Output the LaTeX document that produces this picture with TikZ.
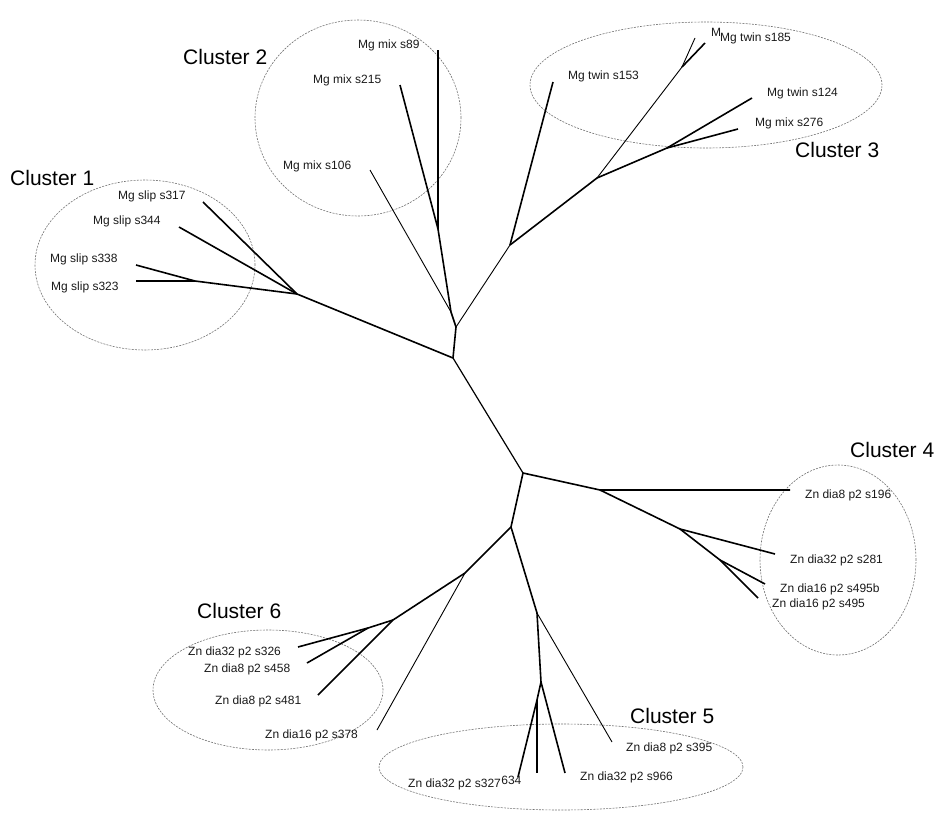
\documentclass[tikz,border=0pt]{standalone}
\usepackage{fontspec}
\setmainfont{Liberation Sans}
\begin{document}
\begin{tikzpicture}[x=1pt,y=-1pt,
  br/.style={line width=1.6pt, black},
  thinbr/.style={line width=0.9pt, black},
  midbr/.style={line width=1.2pt, black},
  lbl/.style={font=\fontsize{12}{14}\selectfont, inner sep=0pt, anchor=west, text=black!90},
  cl/.style={font=\fontsize{21}{24}\selectfont, inner sep=0pt, anchor=west},
  grp/.style={draw=black!55, line width=0.6pt, dash pattern=on 2pt off 1.2pt}]
\useasboundingbox (0,0) rectangle (938,814);
% cluster ellipses
\draw[grp] (145,265) ellipse [x radius=110pt, y radius=85pt];
\draw[grp] (358,118) ellipse [x radius=103pt, y radius=98pt];
\draw[grp] (706,85) ellipse [x radius=176pt, y radius=63pt];
\draw[grp] (838,560) ellipse [x radius=78pt, y radius=95pt];
\draw[grp] (561,767) ellipse [x radius=182pt, y radius=43pt];
\draw[grp] (268,690) ellipse [x radius=115pt, y radius=60pt];
% cluster titles
\node[cl] (c1) at (10,178) {Cluster 1};
\node[cl] (c2) at (183,57) {Cluster 2};
\node[cl] (c3) at (795,150) {Cluster 3};
\node[cl] (c4) at (850,450) {Cluster 4};
\node[cl] (c5) at (630,716) {Cluster 5};
\node[cl] (c6) at (197,611) {Cluster 6};
% tree coordinates
\coordinate (N1) at (453,358);
\coordinate (N2) at (456,327);
\coordinate (N12) at (451,312);
\coordinate (N13) at (438,229);
\coordinate (L89) at (438,50);
\coordinate (L215) at (400,85);
\coordinate (L106) at (370,170);
\coordinate (N8) at (510,245);
\coordinate (L153) at (553,82);
\coordinate (N9) at (597,178);
\coordinate (N10) at (682,67);
\coordinate (Lhid) at (695,38);
\coordinate (L185) at (705,43);
\coordinate (N11) at (667,148);
\coordinate (L124) at (752,98);
\coordinate (L276) at (738,129);
\coordinate (N15) at (297,294);
\coordinate (L317) at (203,202);
\coordinate (L344) at (179,227);
\coordinate (N14) at (195,281);
\coordinate (L338) at (136,265);
\coordinate (L323) at (136,281);
\coordinate (N3) at (523,473);
\coordinate (N5) at (600,490);
\coordinate (L196) at (790,490);
\coordinate (N6) at (680,529);
\coordinate (L281) at (775,554);
\coordinate (N7) at (720,560);
\coordinate (L495b) at (765,584);
\coordinate (L495) at (758,598);
\coordinate (N4) at (511,527);
\coordinate (N16) at (537,613);
\coordinate (L395) at (612,742);
\coordinate (N17) at (541,682);
\coordinate (N18) at (537,700);
\coordinate (L634) at (518,777);
\coordinate (Lv) at (537,773);
\coordinate (L966) at (565,773);
\coordinate (N19) at (465,573);
\coordinate (L378) at (377,730);
\coordinate (N20) at (393,620);
\coordinate (L481) at (318,695);
\coordinate (N21) at (368,628);
\coordinate (L326) at (298,647);
\coordinate (L458) at (307,663);
% branches
\draw[midbr] (N1) -- (N3);
\draw[br] (N1) -- (N15);
\draw[br] (N1) -- (N2) -- (N12) -- (N13) -- (L89);
\draw[br] (N13) -- (L215);
\draw[thinbr] (N12) -- (L106);
\draw[thinbr] (N2) -- (N8);
\draw[br] (N8) -- (L153);
\draw[br] (N8) -- (N9) -- (N11) -- (L124);
\draw[br] (N11) -- (L276);
\draw[thinbr] (N9) -- (N10) -- (Lhid);
\draw[br] (N10) -- (L185);
\draw[br] (N15) -- (L317);
\draw[br] (N15) -- (L344);
\draw[br] (N15) -- (N14) -- (L338);
\draw[br] (N14) -- (L323);
\draw[br] (N3) -- (N5) -- (L196);
\draw[br] (N5) -- (N6) -- (L281);
\draw[br] (N6) -- (N7) -- (L495b);
\draw[br] (N7) -- (L495);
\draw[br] (N3) -- (N4) -- (N16) -- (N17) -- (N18) -- (L634);
\draw[br] (N18) -- (Lv);
\draw[br] (N17) -- (L966);
\draw[thinbr] (N16) -- (L395);
\draw[br] (N4) -- (N19) -- (N20) -- (L481);
\draw[thinbr] (N19) -- (L378);
\draw[br] (N20) -- (N21) -- (L326);
\draw[br] (N21) -- (L458);
% leaf labels
\node[lbl] (t317) at (118,196) {Mg slip s317};
\node[lbl] (t344) at (93,221) {Mg slip s344};
\node[lbl] (t338) at (50,259) {Mg slip s338};
\node[lbl] (t323) at (51,287) {Mg slip s323};
\node[lbl] (t89) at (358,45) {Mg mix s89};
\node[lbl] (t215) at (313,80) {Mg mix s215};
\node[lbl] (t106) at (283,166) {Mg mix s106};
\node[lbl] (t153) at (568,76) {Mg twin s153};
\node[lbl] (thid) at (711,32) {M};
\node[lbl] (t185) at (720,38) {Mg twin s185};
\node[lbl] (t124) at (767,93) {Mg twin s124};
\node[lbl] (t276) at (755,123) {Mg mix s276};
\node[lbl] (t196) at (805,495) {Zn dia8 p2 s196};
\node[lbl] (t281) at (790,560) {Zn dia32 p2 s281};
\node[lbl] (t495b) at (780,589) {Zn dia16 p2 s495b};
\node[lbl] (t495) at (772,604) {Zn dia16 p2 s495};
\node[lbl] (t395) at (626,748) {Zn dia8 p2 s395};
\node[lbl] (t966) at (580,777) {Zn dia32 p2 s966};
\node[lbl] (t327) at (408,784) {Zn dia32 p2 s327};
\node[lbl] (t634) at (t327.east) [yshift=4pt] {634};
\node[lbl] (t326) at (188,652) {Zn dia32 p2 s326};
\node[lbl] (t458) at (204,669) {Zn dia8 p2 s458};
\node[lbl] (t481) at (215,701) {Zn dia8 p2 s481};
\node[lbl] (t378) at (265,735) {Zn dia16 p2 s378};
\end{tikzpicture}
\end{document}
